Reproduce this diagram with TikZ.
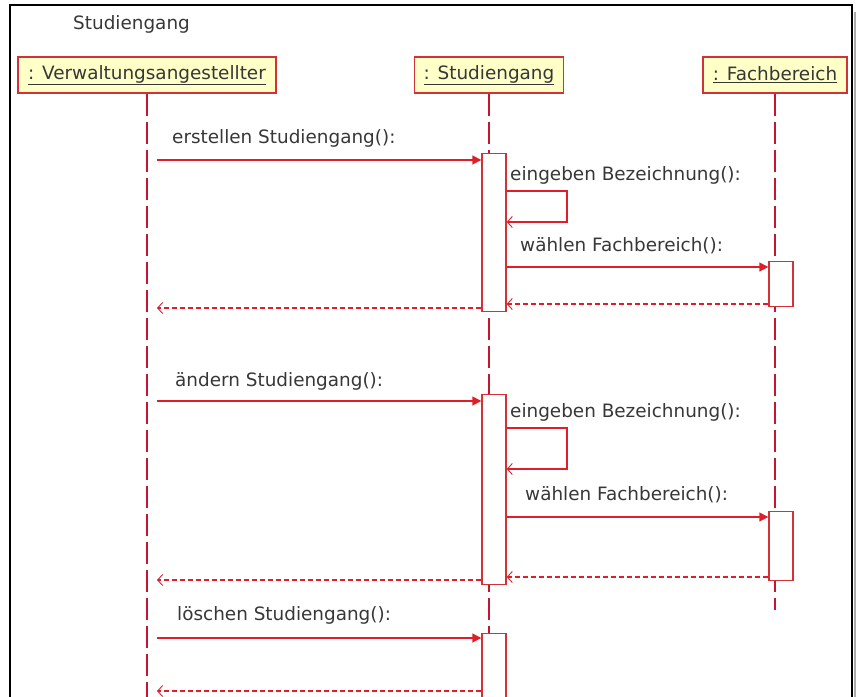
\documentclass[tikz,border=0pt]{standalone}
\usepackage{fontspec}
\setmainfont{DejaVu Sans}
\usetikzlibrary{arrows.meta}
\definecolor{umlred}{RGB}{222,30,40}
\definecolor{lifered}{RGB}{195,22,50}
\definecolor{boxred}{RGB}{210,50,55}
\definecolor{headfill}{RGB}{255,255,200}
\definecolor{txtgray}{RGB}{55,55,55}
\begin{document}
\begin{tikzpicture}[x=1pt,y=-1pt,
  labelfont/.style={font=\fontsize{18.4}{20}\selectfont, text=txtgray},
  head/.style={draw=boxred, fill=headfill, line width=1.8pt, minimum height=36pt,
    inner sep=0pt, labelfont},
  lifeline/.style={lifered, line width=1.5pt, dash pattern=on 22pt off 6pt},
  act/.style={draw=boxred, fill=white, line width=1.4pt, minimum width=24pt,
    inner sep=0pt, anchor=north},
  call/.style={umlred, line width=1.5pt, -{Triangle[length=9pt,width=9pt]}},
  selfcall/.style={umlred, line width=1.5pt, -{Straight Barb[length=5pt,width=11pt,line width=0.9pt]}},
  reply/.style={umlred, line width=1.2pt, dash pattern=on 5pt off 3pt,
    -{Straight Barb[length=5pt,width=11pt,line width=0.9pt]}},
  msg/.style={anchor=west, inner sep=0pt, labelfont}]
\useasboundingbox (0,0) rectangle (856,696);

% frame with shadow
\fill[gray!65] (854,12) rectangle (856,700);
\draw[black, line width=1.8pt] (10,700) -- (10,5) -- (852,5) -- (852,700);
\node[anchor=west, inner sep=0pt, labelfont] (title) at (73,24) {Studiengang};

% objects
\node[head, minimum width=258pt] (va) at (147,75) {\underline{: Verwaltungsangestellter}};
\node[head, minimum width=149pt] (sg) at (489,75) {\underline{: Studiengang}};
\node[head, minimum width=144pt] (fb) at (775,75) {\underline{: Fachbereich}};

% lifelines
\coordinate (vaEnd) at (147,700);
\coordinate (sgEnd) at (489,700);
\coordinate (fbEnd) at (775,610);
\draw[lifeline] (va.south) -- (vaEnd);
\draw[lifeline] (sg.south) -- (sgEnd);
\draw[lifeline] (fb.south) -- (fbEnd);

% activations
\node[act, minimum height=158pt] (s1) at (494,153) {};
\node[act, minimum height=45pt]  (f1) at (781,261) {};
\node[act, minimum height=190pt] (s2) at (494,394) {};
\node[act, minimum height=69pt]  (f2) at (781,511) {};
\node[act, minimum height=80pt]  (s3) at (494,633) {};

% --- erstellen
\coordinate (c1) at (157,160);
\draw[call] (c1) -- (c1 -| s1.west);
\node[msg] (m1) at (172,138) {erstellen Studiengang():};
\coordinate (e1a) at (567,191);
\coordinate (e1b) at (567,222);
\draw[selfcall] (e1a -| s1.east) -- (e1a) -- (e1b) -- (e1b -| s1.east);
\node[msg] (m2) at (510,175) {eingeben Bezeichnung():};
\coordinate (w1) at (640,267);
\draw[call] (w1 -| s1.east) -- (w1 -| f1.west);
\node[msg] (m3) at (520,246) {wählen Fachbereich():};
\coordinate (rf1) at (640,304);
\draw[reply] (rf1 -| f1.west) -- (rf1 -| s1.east);
\coordinate (r1) at (157,308);
\draw[reply] (r1 -| s1.west) -- (r1);

% --- aendern
\coordinate (c2) at (157,401);
\draw[call] (c2) -- (c2 -| s2.west);
\node[msg] (m4) at (175,381) {ändern Studiengang():};
\coordinate (e2a) at (567,428);
\coordinate (e2b) at (567,469);
\draw[selfcall] (e2a -| s2.east) -- (e2a) -- (e2b) -- (e2b -| s2.east);
\node[msg] (m5) at (510,412) {eingeben Bezeichnung():};
\coordinate (w2) at (640,517);
\draw[call] (w2 -| s2.east) -- (w2 -| f2.west);
\node[msg] (m6) at (525,495) {wählen Fachbereich():};
\coordinate (rf2) at (640,577);
\draw[reply] (rf2 -| f2.west) -- (rf2 -| s2.east);
\coordinate (r2) at (157,580);
\draw[reply] (r2 -| s2.west) -- (r2);

% --- loeschen
\coordinate (c3) at (157,638);
\draw[call] (c3) -- (c3 -| s3.west);
\node[msg] (m7) at (177,615) {löschen Studiengang():};
\coordinate (r3) at (157,691);
\draw[reply] (r3 -| s3.west) -- (r3);
\end{tikzpicture}
\end{document}
